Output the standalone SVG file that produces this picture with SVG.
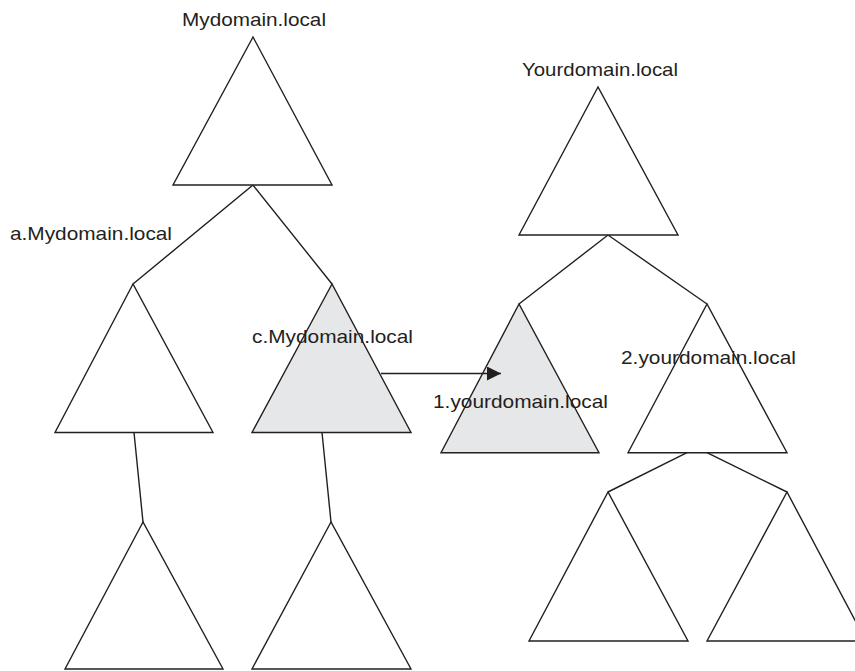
<svg xmlns="http://www.w3.org/2000/svg" width="855" height="671" viewBox="0 0 855 671">
<defs>
<style>
.tri{fill:#ffffff;stroke:#231f20;stroke-width:1.4;stroke-linejoin:miter}
.sel{fill:#e6e7e8}
.con{fill:none;stroke:#231f20;stroke-width:1.4}
.lbl{font-family:"Liberation Sans",Arial,sans-serif;font-size:19px;fill:#231f20}
</style>
<marker id="ah" markerWidth="14" markerHeight="14" viewBox="0 0 14 14" refX="14" refY="7" orient="auto" markerUnits="userSpaceOnUse">
<path d="M0,0 L14,7 L0,14 Z" fill="#231f20"/>
</marker>
</defs>
<rect width="855" height="671" fill="#ffffff"/>
<g id="connectors">
<polyline class="con" points="133,284 253,185 332,284"/>
<line class="con" x1="134" y1="432.5" x2="143" y2="522"/>
<line class="con" x1="322" y1="432.5" x2="331" y2="522"/>
<polyline class="con" points="519,304 608,235 707,304"/>
<line class="con" x1="687" y1="452.7" x2="608" y2="492"/>
<line class="con" x1="707" y1="452.7" x2="787" y2="492"/>
</g>
<g id="mydomain">
<polygon class="tri" points="253,37 173,185 332,185"/>
<text class="lbl" x="182" y="26" textLength="144" lengthAdjust="spacingAndGlyphs">Mydomain.local</text>
</g>
<g id="a-mydomain">
<polygon class="tri" points="133,284 55,432.5 213,432.5"/>
<text class="lbl" x="10" y="240" textLength="162" lengthAdjust="spacingAndGlyphs">a.Mydomain.local</text>
</g>
<g id="a-child">
<polygon class="tri" points="143,522 65,669 223,669"/>
</g>
<g id="c-mydomain">
<polygon class="tri sel" points="332,284 252,432.5 411,432.5"/>
<text class="lbl" x="252" y="343" textLength="161" lengthAdjust="spacingAndGlyphs">c.Mydomain.local</text>
</g>
<g id="c-child">
<polygon class="tri" points="331,522 252,669 411,669"/>
</g>
<g id="yourdomain">
<polygon class="tri" points="598,87 519,235 678,235"/>
<text class="lbl" x="522" y="76" textLength="156" lengthAdjust="spacingAndGlyphs">Yourdomain.local</text>
</g>
<g id="yourdomain-1">
<polygon class="tri sel" points="519,304 441,452.7 599,452.7"/>
<text class="lbl" x="433" y="408" textLength="175" lengthAdjust="spacingAndGlyphs">1.yourdomain.local</text>
</g>
<g id="yourdomain-2">
<polygon class="tri" points="707,304 628,452.7 787,452.7"/>
<text class="lbl" x="621" y="364" textLength="175" lengthAdjust="spacingAndGlyphs">2.yourdomain.local</text>
</g>
<g id="y2-left">
<polygon class="tri" points="608,492 529,641 688,641"/>
</g>
<g id="y2-right">
<polygon class="tri" points="787,492 707,641 866,641"/>
</g>
<g id="trust">
<line class="con" x1="381" y1="373.5" x2="501" y2="373.5" marker-end="url(#ah)"/>
</g>
</svg>
